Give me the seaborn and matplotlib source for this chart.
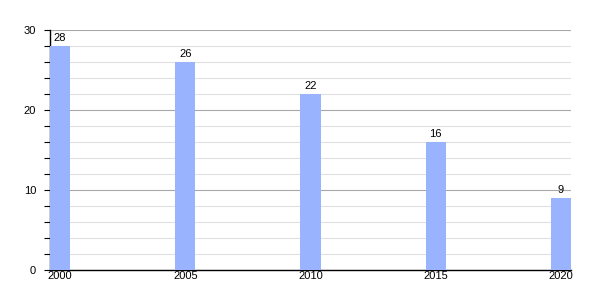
import matplotlib
matplotlib.use("Agg")
import matplotlib.pyplot as plt
import seaborn as sns
import pandas as pd
from matplotlib.ticker import MultipleLocator

years = ["2000", "2005", "2010", "2015", "2020"]
values = [28, 26, 22, 16, 9]

sns.set_style("white")
plt.rcParams['font.family'] = ['Liberation Sans', 'DejaVu Sans']
plt.rcParams['text.color'] = 'black'
plt.rcParams['xtick.color'] = 'black'
plt.rcParams['ytick.color'] = 'black'

df = pd.DataFrame({"year": years, "value": values})

fig = plt.figure(figsize=(6, 3), dpi=100)
ax = fig.add_axes([50/600, 0.1, 521/600, 0.8])

sns.barplot(data=df, x="year", y="value", color="#99b3ff", saturation=1,
            width=0.16, ax=ax, zorder=3, linewidth=0, edgecolor="none")

ax.set_xlim(-0.08, 4.08)
ax.set_ylim(0, 30)
ax.yaxis.set_major_locator(MultipleLocator(10))
ax.yaxis.set_minor_locator(MultipleLocator(2))
ax.grid(axis="y", which="major", color="#a8a8a8", linewidth=0.8, zorder=0)
ax.grid(axis="y", which="minor", color="#e0e0e0", linewidth=0.8, zorder=0)
ax.set_axisbelow(True)

for s in ["top", "right"]:
    ax.spines[s].set_visible(False)
for s in ["left", "bottom"]:
    ax.spines[s].set_color("black")
    ax.spines[s].set_linewidth(1)

ax.tick_params(axis="y", which="both", left=True, length=4, width=0.8,
               color="black", labelsize=8, pad=6, labelcolor="black")
ax.tick_params(axis="x", bottom=False, length=0, labelsize=8, pad=1,
               labelcolor="black")
ax.set_xlabel("")
ax.set_ylabel("")

for c in ax.containers:
    ax.bar_label(c, labels=[str(v) for v in values], padding=2, fontsize=8,
                 color="black")

fig.savefig("out.png", dpi=100)
